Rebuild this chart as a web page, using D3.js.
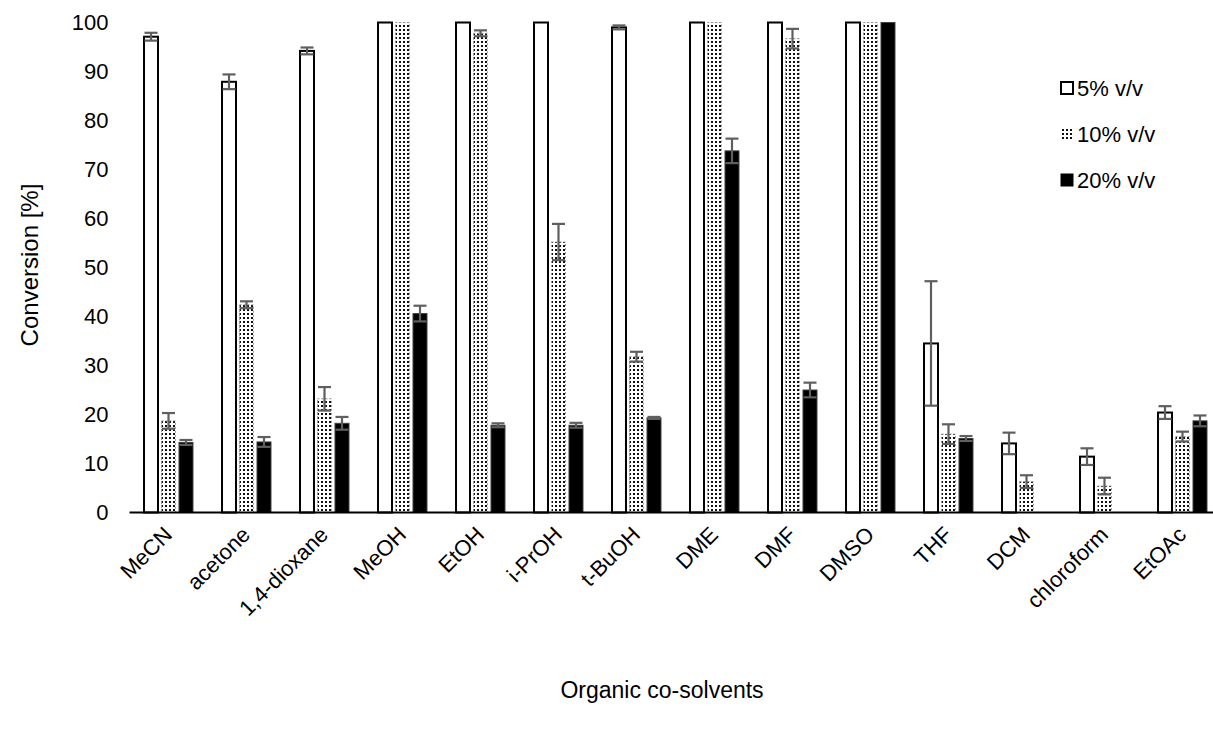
<!DOCTYPE html>
<html>
<head>
<meta charset="utf-8">
<script src="https://cdn.jsdelivr.net/npm/d3@7"></script>
<style>
  body { margin: 0; background: #fff; }
  svg { display: block; font-family: "Liberation Sans", Arial, sans-serif; }
</style>
</head>
<body>
<svg id="chart" width="1213" height="733"></svg>
<script>
/* co-solvents on the x axis */
var CATEGORIES = ["MeCN", "acetone", "1,4-dioxane", "MeOH", "EtOH", "i-PrOH", "t-BuOH",
                  "DME", "DMF", "DMSO", "THF", "DCM", "chloroform", "EtOAc"];
var SERIES = ["5% v/v", "10% v/v", "20% v/v"];

/* conversion [%] and error (+/-) per series */
var V5  = [97.1, 87.9, 94.2, 100, 100, 100, 99.0, 100, 100, 100, 34.5, 14.1, 11.4, 20.4];
var E5  = [0.8, 1.5, 0.7, 0, 0, 0, 0.4, 0, 0, 0, 12.7, 2.2, 1.7, 1.3];
var V10 = [18.7, 42.4, 23.2, 100, 97.8, 55.2, 31.8, 100, 96.7, 100, 16.0, 6.3, 5.4, 15.5];
var E10 = [1.6, 0.7, 2.4, 0, 0.6, 3.7, 1.0, 0, 2.0, 0, 2.0, 1.3, 1.7, 1.0];
var V20 = [14.3, 14.4, 18.2, 40.6, 17.8, 17.8, 19.3, 73.8, 25.0, 100, 15.1, 0, 0, 18.7];
var E20 = [0.5, 1.0, 1.3, 1.6, 0.4, 0.5, 0.2, 2.5, 1.5, 0, 0.5, 0, 0, 1.1];

var Y_TICKS = [0, 10, 20, 30, 40, 50, 60, 70, 80, 90, 100];

function init() {
    var svg = d3.select("#chart");

    var defs = svg.append("defs");
    var pat = defs.append("pattern")
        .attr("id", "dots")
        .attr("patternUnits", "userSpaceOnUse")
        .attr("width", 4).attr("height", 4);
    pat.append("rect").attr("width", 4).attr("height", 4).attr("fill", "#fff");
    pat.append("rect").attr("x", 1).attr("y", 1).attr("width", 2).attr("height", 2).attr("fill", "#111");

    var styles = {
        "5% v/v":  { fill: "#fff", stroke: "#000", width: 2, dash: null },
        "10% v/v": { fill: "url(#dots)", stroke: "#9a9a9a", width: 1, dash: "2,2" },
        "20% v/v": { fill: "#000", stroke: "#404040", width: 1, dash: null }
    };

    var x0 = 129.5, step = 78;
    var x = d3.scaleBand().domain(CATEGORIES)
        .range([x0, x0 + step * CATEGORIES.length])
        .paddingInner(0.372).paddingOuter(0.186);
    var xs = d3.scaleBand().domain(SERIES).range([0, x.bandwidth()]).paddingInner(0.2);
    var y = d3.scaleLinear().domain([0, 100]).range([512.5, 22.5]);

    var rows = CATEGORIES.map(function (c, i) {
        return {
            cat: c,
            vals: [
                { s: SERIES[0], v: V5[i], e: E5[i] },
                { s: SERIES[1], v: V10[i], e: E10[i] },
                { s: SERIES[2], v: V20[i], e: E20[i] }
            ]
        };
    });

    /* y axis labels (no axis line) */
    var yAxis = svg.append("g")
        .attr("transform", "translate(" + x0 + ",0)")
        .call(d3.axisLeft(y).tickValues(Y_TICKS).tickSize(0).tickPadding(21));
    yAxis.select(".domain").remove();
    yAxis.selectAll("text")
        .attr("font-family", "Liberation Sans, Arial, sans-serif")
        .attr("font-size", 22).attr("fill", "#000");

    /* bars */
    var groups = svg.selectAll(".grp").data(rows).enter()
        .append("g").attr("class", "grp")
        .attr("transform", function (d) { return "translate(" + x(d.cat) + ",0)"; });

    groups.selectAll("rect").data(function (d) { return d.vals; }).enter()
        .append("rect")
        .attr("x", function (d) { return xs(d.s); })
        .attr("y", function (d) { return y(d.v); })
        .attr("width", xs.bandwidth())
        .attr("height", function (d) { return y(0) - y(d.v); })
        .attr("fill", function (d) { return styles[d.s].fill; })
        .attr("stroke", function (d) { return d.v === 0 ? "#999" : styles[d.s].stroke; })
        .attr("stroke-width", function (d) { return styles[d.s].width; })
        .attr("stroke-dasharray", function (d) { return d.v === 0 ? null : styles[d.s].dash; });

    /* baseline */
    svg.append("line")
        .attr("x1", x0).attr("x2", x0 + step * CATEGORIES.length)
        .attr("y1", y(0)).attr("y2", y(0))
        .attr("stroke", "#000").attr("stroke-width", 2);

    /* error bars */
    var eb = groups.selectAll(".err").data(function (d) {
        return d.vals.filter(function (v) { return v.e > 0; });
    }).enter().append("g").attr("class", "err")
        .attr("stroke", "#5f5f5f").attr("stroke-width", 2.2);
    var cx = function (d) { return xs(d.s) + xs.bandwidth() / 2; };
    eb.append("line")
        .attr("x1", cx).attr("x2", cx)
        .attr("y1", function (d) { return y(d.v + d.e); })
        .attr("y2", function (d) { return y(d.v - d.e); });
    [1, -1].forEach(function (sign) {
        eb.append("line")
            .attr("x1", function (d) { return cx(d) - 6.5; })
            .attr("x2", function (d) { return cx(d) + 6.5; })
            .attr("y1", function (d) { return y(d.v + sign * d.e); })
            .attr("y2", function (d) { return y(d.v + sign * d.e); });
    });

    /* category labels */
    svg.selectAll(".xlab").data(CATEGORIES).enter()
        .append("text").attr("class", "xlab")
        .attr("transform", function (d) {
            return "translate(" + (x(d) + x.bandwidth() / 2 + 5) + ",536) rotate(-45)";
        })
        .attr("text-anchor", "end")
        .attr("font-size", 22)
        .text(function (d) { return d; });

    /* axis titles */
    svg.append("text")
        .attr("transform", "translate(38,265) rotate(-90)")
        .attr("text-anchor", "middle")
        .attr("font-size", 24)
        .text("Conversion [%]");
    svg.append("text")
        .attr("x", 662).attr("y", 698)
        .attr("text-anchor", "middle")
        .attr("font-size", 23)
        .text("Organic co-solvents");

    /* legend */
    var leg = svg.append("g").attr("transform", "translate(1061,0)");
    var legY = [88, 134, 180];
    SERIES.forEach(function (s, i) {
        var st = styles[s];
        leg.append("rect")
            .attr("x", 0).attr("y", legY[i] - 6)
            .attr("width", 12).attr("height", 12)
            .attr("fill", st.fill)
            .attr("stroke", i === 1 ? "none" : "#000")
            .attr("stroke-width", i === 0 ? 2 : 1);
        leg.append("text")
            .attr("x", 16).attr("y", legY[i])
            .attr("dy", "0.35em")
            .attr("font-size", 22)
            .text(s);
    });
}

init();
</script>
</body>
</html>
